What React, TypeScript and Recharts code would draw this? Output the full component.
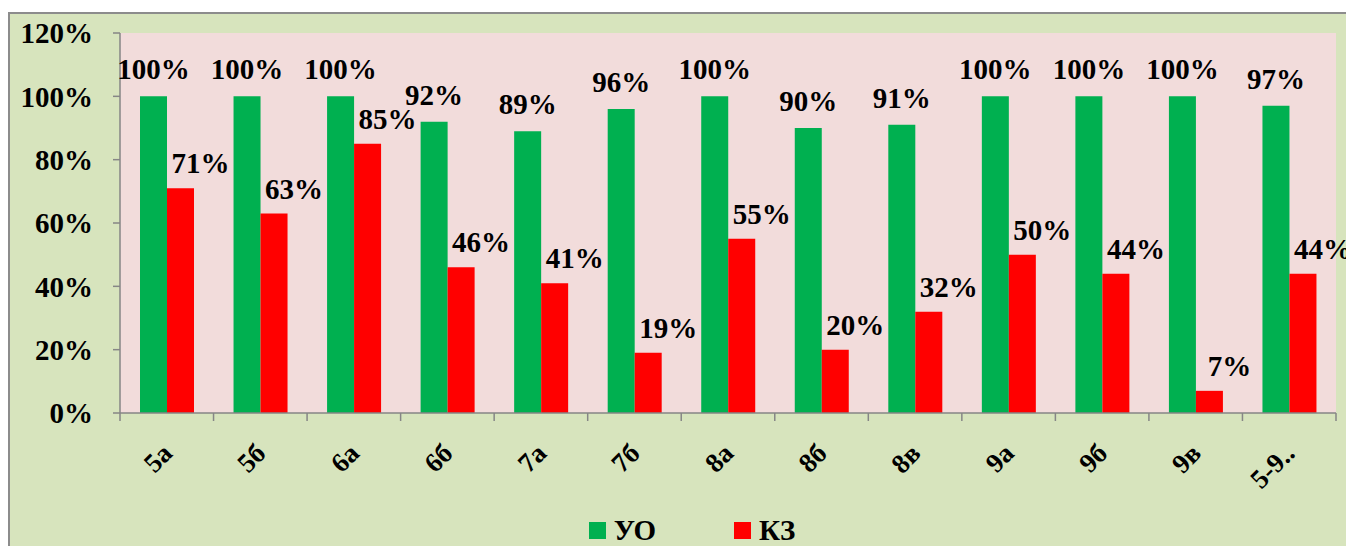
import { BarChart, Bar, XAxis, YAxis, CartesianGrid, Legend, LabelList } from 'recharts'

const categories = ['5а', '5б', '6а', '6б', '7а', '7б', '8а', '8б', '8в', '9а', '9б', '9в', '5-9..']
const uoValues = [100, 100, 100, 92, 89, 96, 100, 90, 91, 100, 100, 100, 97]
const kzValues = [71, 63, 85, 46, 41, 19, 55, 20, 32, 50, 44, 7, 44]
const yTicks = [0, 20, 40, 60, 80, 100, 120]

const data = categories.map((name, i) => ({ name, uo: uoValues[i], kz: kzValues[i] }))

const GREEN = '#00b050'
const RED = '#ff0000'
const AXIS = '#868686'
const FONT = '"Liberation Serif", "Times New Roman", serif'

const PLOT_W = 1216
const BAND = PLOT_W / categories.length

function XTick(props: any) {
  const { x, y, payload, index } = props
  const right = x + BAND / 2
  const left = x - BAND / 2
  return (
    <g>
      {index === 0 && <line x1={left} x2={left} y1={y} y2={y + 8} stroke={AXIS} strokeWidth={1.5} />}
      <line x1={right} x2={right} y1={y} y2={y + 8} stroke={AXIS} strokeWidth={1.5} />
      <text
        x={x + 7}
        y={y + 42}
        textAnchor="end"
        transform={`rotate(-45 ${x + 7} ${y + 42})`}
        fontSize={27}
        fontWeight="bold"
        fontFamily={FONT}
        fill="#000"
      >
        {payload.value}
      </text>
    </g>
  )
}

function GreenLabel(props: any) {
  const { x, y, width, value } = props
  return (
    <text x={x + width / 2} y={y - 17} textAnchor="middle" fontSize={29} fontWeight="bold" fontFamily={FONT} fill="#000">
      {value}%
    </text>
  )
}

function RedLabel(props: any) {
  const { x, y, width, value } = props
  return (
    <text x={x + width / 2 + 20} y={y - 15} textAnchor="middle" fontSize={29} fontWeight="bold" fontFamily={FONT} fill="#000">
      {value}%
    </text>
  )
}

function LegendContent() {
  const items = [
    { label: 'УО', color: GREEN },
    { label: 'КЗ', color: RED },
  ]
  return (
    <div style={{ display: 'flex', justifyContent: 'center', gap: 78, fontFamily: FONT }}>
      {items.map(it => (
        <div key={it.label} style={{ display: 'flex', alignItems: 'center', gap: 8 }}>
          <span style={{ width: 17, height: 17, background: it.color, display: 'inline-block' }} />
          <span style={{ fontSize: 29, fontWeight: 'bold', lineHeight: '28px' }}>{it.label}</span>
        </div>
      ))}
    </div>
  )
}

export default function App() {
  return (
    <div style={{ width: 1346, height: 534, marginTop: 4, overflow: 'hidden' }}>
      <div
        style={{
          width: 1364,
          height: 560,
          background: '#d7e4bd',
          borderTop: '2px solid #8c8c8c',
          borderLeft: '2px solid #8c8c8c',
          fontFamily: FONT,
        }}
      >
        <BarChart
          width={1364}
          height={540}
          data={data}
          margin={{ top: 19, right: 38, bottom: 0, left: 0 }}
          barGap={0}
          barSize={27}
        >
          <CartesianGrid horizontal={false} vertical={false} fill="#f2dcdb" stroke="none" />
          <XAxis
            dataKey="name"
            interval={0}
            tickLine={false}
            tickSize={0}
            tickMargin={0}
            height={113}
            axisLine={{ stroke: AXIS, strokeWidth: 1.5 }}
            tick={<XTick />}
          />
          <YAxis
            width={110}
            domain={[0, 120]}
            ticks={yTicks}
            tickFormatter={v => `${v}%`}
            tickSize={7}
            tickMargin={20}
            axisLine={{ stroke: AXIS, strokeWidth: 1.5 }}
            tickLine={{ stroke: AXIS, strokeWidth: 1.5 }}
            tick={{ fill: '#000', fontSize: 29, fontWeight: 'bold', fontFamily: FONT }}
          />
          <Legend
            content={<LegendContent />}
            wrapperStyle={{ position: 'absolute', top: 502, left: 0, width: 1364, bottom: 'auto' }}
          />
          <Bar dataKey="uo" name="УО" fill={GREEN} isAnimationActive={false}>
            <LabelList dataKey="uo" content={<GreenLabel />} />
          </Bar>
          <Bar dataKey="kz" name="КЗ" fill={RED} isAnimationActive={false}>
            <LabelList dataKey="kz" content={<RedLabel />} />
          </Bar>
        </BarChart>
      </div>
    </div>
  )
}
